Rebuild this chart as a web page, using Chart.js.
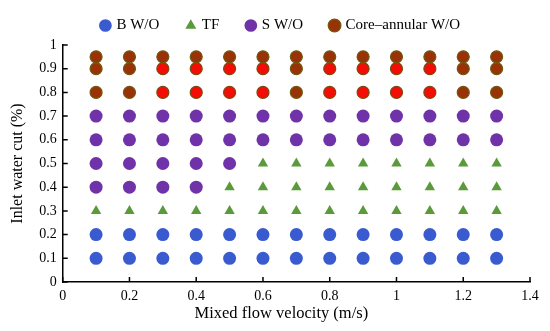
<!DOCTYPE html>
<html>
<head>
<meta charset="utf-8">
<script src="https://cdn.jsdelivr.net/npm/chart.js@4/dist/chart.umd.min.js"></script>
<style>
    html, body { margin: 0; padding: 0; background: #fff; }
    #flowMap { display: block; }
</style>
</head>
<body>
<canvas id="flowMap" width="550" height="331"></canvas>
<script>
const velocities = [0.1, 0.2, 0.3, 0.4, 0.5, 0.6, 0.7, 0.8, 0.9, 1.0, 1.1, 1.2, 1.3];
const waterCuts = [0.1, 0.2, 0.3, 0.4, 0.5, 0.6, 0.7, 0.8, 0.9, 0.95];
// one string per water cut, one letter per velocity
// B = B W/O, T = TF, S = S W/O, C = Core-annular W/O, R = Core-annular (red point)
const regimeRows = [
    'BBBBBBBBBBBBB',
    'BBBBBBBBBBBBB',
    'TTTTTTTTTTTTT',
    'SSSSTTTTTTTTT',
    'SSSSSTTTTTTTT',
    'SSSSSSSSSSSSS',
    'SSSSSSSSSSSSS',
    'CCRRRRCRRRRCC',
    'CCRRRRCRRRRCC',
    'CCCCCCCCCCCCC'
];
const xTicks = [0, 0.2, 0.4, 0.6, 0.8, 1, 1.2, 1.4];
const yTicks = [0, 0.1, 0.2, 0.3, 0.4, 0.5, 0.6, 0.7, 0.8, 0.9, 1];

const seriesNames = { B: 'B W/O', T: 'TF', S: 'S W/O', C: 'Core\u2013annular W/O', R: 'core-red' };
const xTitle = 'Mixed flow velocity (m/s)';

function pointsFor(code) {
    const pts = [];
    regimeRows.forEach((row, i) => {
        row.split('').forEach((c, j) => {
            if (c === code) pts.push({ x: velocities[j], y: waterCuts[i] });
        });
    });
    return pts;
}

const serif = 'Liberation Serif, Times New Roman, serif';

// inward tick marks + x title (sits a bit left of centre in the original)
const axisExtras = {
    id: 'axisExtras',
    beforeLayout(chart) {
        // keep the legend short so wide item spacing doesn't push the plot down
        const lg = chart.legend;
        if (lg && !lg._patched) {
            const origFit = lg.fit.bind(lg);
            lg.fit = function () { origFit(); this.height = 55; };
            lg._patched = true;
        }
    },
    afterLayout(chart) {
        // legend sits a little right of the plot centre
        const lg = chart.legend;
        if (lg) { lg.left += 12; lg.right += 12; }
    },
    afterDraw(chart) {
        const { ctx, scales: { x, y } } = chart;
        ctx.save();
        ctx.strokeStyle = '#000';
        ctx.lineWidth = 1.5;
        ctx.beginPath();
        xTicks.forEach(v => {
            const px = x.getPixelForValue(v);
            ctx.moveTo(px, y.bottom);
            ctx.lineTo(px, y.bottom - 5);
        });
        yTicks.forEach(v => {
            const py = y.getPixelForValue(v);
            ctx.moveTo(x.left, py);
            ctx.lineTo(x.left + 5, py);
        });
        ctx.stroke();

        ctx.fillStyle = '#000';
        ctx.font = '16.5px ' + serif;
        ctx.textAlign = 'center';
        ctx.textBaseline = 'middle';
        ctx.fillText(xTitle, (x.left + x.right) / 2 - 15, y.bottom + 32);
        ctx.restore();
    }
};

new Chart(document.getElementById('flowMap'), {
    type: 'scatter',
    data: {
        datasets: [
            { label: seriesNames.B, data: pointsFor('B'), pointStyle: 'circle', pointRadius: 6.5,
              backgroundColor: '#3a5bd0', borderColor: '#3a5bd0', borderWidth: 0 },
            { label: seriesNames.T, data: pointsFor('T'), pointStyle: 'triangle', pointRadius: 6,
              backgroundColor: '#5b9a3a', borderColor: '#5b9a3a', borderWidth: 0 },
            { label: seriesNames.S, data: pointsFor('S'), pointStyle: 'circle', pointRadius: 6.5,
              backgroundColor: '#7032a8', borderColor: '#7032a8', borderWidth: 0 },
            { label: seriesNames.C, data: pointsFor('C'), pointStyle: 'circle', pointRadius: 6,
              backgroundColor: '#9a3208', borderColor: '#6e5a10', borderWidth: 1.2 },
            { label: seriesNames.R, data: pointsFor('R'), pointStyle: 'circle', pointRadius: 6,
              backgroundColor: '#f20d06', borderColor: '#7a4a10', borderWidth: 1.2 }
        ]
    },
    options: {
        responsive: false,
        animation: false,
        clip: false,
        layout: { padding: { left: 8, right: 20, top: -10, bottom: 0 } },
        plugins: {
            tooltip: { enabled: false },
            legend: {
                position: 'top',
                labels: {
                    usePointStyle: true,
                    boxWidth: 7,
                    boxHeight: 9,
                    padding: 28,
                    color: '#000',
                    font: { family: serif, size: 15 },
                    filter: item => item.text !== seriesNames.R
                }
            }
        },
        scales: {
            x: {
                type: 'linear',
                min: 0,
                max: 1.4,
                afterBuildTicks: s => { s.ticks = xTicks.map(v => ({ value: v })); },
                afterFit: s => { s.height = 49; },
                ticks: {
                    color: '#000',
                    padding: 6,
                    maxRotation: 0,
                    font: { family: serif, size: 14 },
                    callback: v => String(+v.toFixed(1))
                },
                grid: { display: false, drawTicks: false },
                border: { display: true, color: '#000', width: 1.5 },
                title: { display: false }
            },
            y: {
                type: 'linear',
                min: 0,
                max: 1,
                afterBuildTicks: s => { s.ticks = yTicks.map(v => ({ value: v })); },
                ticks: {
                    color: '#000',
                    padding: 6,
                    font: { family: serif, size: 14 },
                    callback: v => String(+v.toFixed(1))
                },
                grid: { display: false, drawTicks: false },
                border: { display: true, color: '#000', width: 1.5 },
                title: {
                    display: true,
                    text: 'Inlet water cut (%)',
                    color: '#000',
                    padding: { top: 0, bottom: 6 },
                    font: { family: serif, size: 16 }
                }
            }
        }
    },
    plugins: [axisExtras]
});
</script>
</body>
</html>
